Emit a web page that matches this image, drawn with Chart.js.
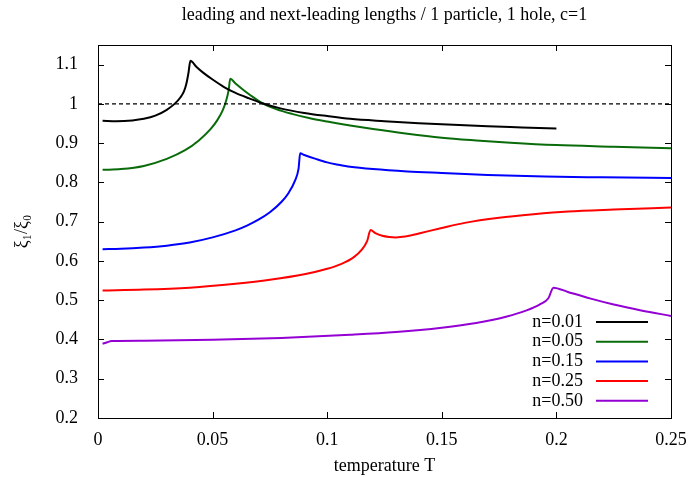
<!DOCTYPE html>
<html>
<head>
<meta charset="utf-8">
<script src="https://cdn.jsdelivr.net/npm/chart.js@4/dist/chart.umd.min.js"></script>
<style>
  html, body { margin: 0; padding: 0; background: #fff; }
  #wrap { width: 694px; height: 477px; }
</style>
</head>
<body>
<div id="wrap"><canvas id="c" width="694" height="477"></canvas></div>
<script>
// ── Data ──────────────────────────────────────────────────────
const TITLE = 'leading and next-leading lengths / 1 particle, 1 hole, c=1';

const xTicks = [0, 0.05, 0.1, 0.15, 0.2, 0.25];
const yTicks = [0.2, 0.3, 0.4, 0.5, 0.6, 0.7, 0.8, 0.9, 1.0, 1.1];

const t001  = [0.002, 0.008, 0.015, 0.02, 0.025, 0.03, 0.0334, 0.036, 0.0375, 0.0385, 0.0395, 0.0403,
               0.043, 0.046, 0.05, 0.055, 0.06, 0.066, 0.072, 0.08, 0.09, 0.1, 0.11, 0.125, 0.14, 0.155, 0.17, 0.185, 0.2];
const xi001 = [0.957, 0.956, 0.958, 0.962, 0.970, 0.985, 1.0, 1.017, 1.032, 1.05, 1.08, 1.110,
               1.094, 1.079, 1.062, 1.043, 1.028, 1.014, 1.001, 0.988, 0.977, 0.969, 0.962, 0.956, 0.951, 0.947, 0.943, 0.940, 0.937];

const t005  = [0.002, 0.01, 0.02, 0.03, 0.038, 0.044, 0.049, 0.052, 0.0545, 0.056, 0.057, 0.0577,
               0.06, 0.064, 0.068, 0.072, 0.078, 0.085, 0.092, 0.1, 0.11, 0.12, 0.135, 0.15, 0.165, 0.18, 0.2, 0.225, 0.25];
const xi005 = [0.832, 0.834, 0.842, 0.860, 0.882, 0.907, 0.935, 0.958, 0.985, 1.01, 1.035, 1.064,
               1.052, 1.033, 1.016, 1.001, 0.986, 0.974, 0.964, 0.955, 0.945, 0.936, 0.924, 0.914, 0.907, 0.901, 0.895, 0.891, 0.887];

const t015  = [0.002, 0.01, 0.02, 0.03, 0.04, 0.05, 0.06, 0.065, 0.07, 0.075, 0.08, 0.083, 0.086, 0.0875, 0.0882,
               0.09, 0.095, 0.1, 0.105, 0.11, 0.12, 0.135, 0.15, 0.17, 0.195, 0.22, 0.25];
const xi015 = [0.630, 0.631, 0.634, 0.639, 0.647, 0.660, 0.678, 0.690, 0.705, 0.724, 0.750, 0.772, 0.805, 0.835, 0.874,
               0.870, 0.860, 0.851, 0.845, 0.840, 0.834, 0.828, 0.824, 0.819, 0.815, 0.813, 0.811];

const t025  = [0.002, 0.02, 0.04, 0.06, 0.075, 0.09, 0.1, 0.106, 0.1115, 0.115, 0.1175, 0.1189,
               0.121, 0.124, 0.127, 0.13, 0.134, 0.14, 0.15, 0.16, 0.175, 0.19, 0.205, 0.225, 0.25];
const xi025 = [0.525, 0.527, 0.532, 0.542, 0.552, 0.566, 0.580, 0.592, 0.609, 0.628, 0.652, 0.679,
               0.671, 0.664, 0.661, 0.660, 0.662, 0.670, 0.684, 0.697, 0.710, 0.719, 0.726, 0.731, 0.736];

const t050  = [0.002, 0.004, 0.006, 0.02, 0.05, 0.08, 0.11, 0.13, 0.15, 0.165, 0.178, 0.187, 0.193, 0.1965, 0.1987,
               0.205, 0.215, 0.225, 0.237, 0.25];
const xi050 = [0.389, 0.393, 0.396, 0.397, 0.399, 0.404, 0.412, 0.419, 0.430, 0.442, 0.458, 0.474, 0.490, 0.505, 0.532,
               0.521, 0.504, 0.489, 0.474, 0.460];

const refT  = [0, 0.25];
const refXi = [1, 1];

const SERIES = [
    { label: 'n=0.01', t: t001, xi: xi001, color: '#000000' },
    { label: 'n=0.05', t: t005, xi: xi005, color: '#0a6b0a' },
    { label: 'n=0.15', t: t015, xi: xi015, color: '#0000ff' },
    { label: 'n=0.25', t: t025, xi: xi025, color: '#ff0000' },
    { label: 'n=0.50', t: t050, xi: xi050, color: '#9400d3' },
];

const FONT = '"Liberation Serif", "Times New Roman", serif';
const fmt = v => String(Number(v.toFixed(2)));

const pts = (xs, ys) => xs.map((x, i) => ({ x, y: ys[i] }));

// ── Plugins: gnuplot-like frame, inward ticks, title, legend ──
const framePlugin = {
    id: 'frame',
    afterDatasetsDraw(chart) {
        const { ctx, chartArea: a, scales: { x, y } } = chart;
        ctx.save();
        ctx.strokeStyle = '#000';
        ctx.lineWidth = 1;
        ctx.beginPath();
        ctx.rect(Math.round(a.left) + 0.5, Math.round(a.top) + 0.5,
                 Math.round(a.right - a.left), Math.round(a.bottom - a.top));
        const L = 6;
        xTicks.forEach(v => {
            const px = Math.round(x.getPixelForValue(v)) + 0.5;
            ctx.moveTo(px, a.bottom); ctx.lineTo(px, a.bottom - L);
            ctx.moveTo(px, a.top);    ctx.lineTo(px, a.top + L);
        });
        yTicks.forEach(v => {
            const py = Math.round(y.getPixelForValue(v)) + 0.5;
            ctx.moveTo(a.left, py);  ctx.lineTo(a.left + L, py);
            ctx.moveTo(a.right, py); ctx.lineTo(a.right - L, py);
        });
        ctx.stroke();
        ctx.restore();
    },
};

const titlePlugin = {
    id: 'gpTitle',
    afterDraw(chart) {
        const { ctx, chartArea: a } = chart;
        ctx.save();
        ctx.font = '18px ' + FONT;
        ctx.fillStyle = '#000';
        ctx.textAlign = 'center';
        ctx.textBaseline = 'middle';
        ctx.fillText(TITLE, (a.left + a.right) / 2, 15);
        ctx.restore();
    },
};

const legendPlugin = {
    id: 'gpLegend',
    afterDraw(chart) {
        const { ctx } = chart;
        ctx.save();
        ctx.font = '18px ' + FONT;
        ctx.textAlign = 'right';
        ctx.textBaseline = 'middle';
        SERIES.forEach((s, i) => {
            const yy = 322 + i * 19.7;
            ctx.fillStyle = '#000';
            ctx.fillText(s.label, 583, yy);
            ctx.strokeStyle = s.color;
            ctx.lineWidth = 2;
            ctx.beginPath();
            ctx.moveTo(596, yy); ctx.lineTo(648, yy);
            ctx.stroke();
        });
        ctx.restore();
    },
};

// ── Chart ─────────────────────────────────────────────────────
const datasets = [
    { label: 'ref', data: pts(refT, refXi), borderColor: '#000', borderWidth: 1.3,
      borderDash: [4, 3], pointRadius: 0, fill: false, tension: 0 },
    ...SERIES.map(s => ({
        label: s.label, data: pts(s.t, s.xi), borderColor: s.color, borderWidth: 2,
        pointRadius: 0, fill: false, cubicInterpolationMode: 'monotone',
    })),
];

new Chart(document.getElementById('c'), {
    type: 'line',
    data: { datasets },
    options: {
        responsive: false, animation: false, devicePixelRatio: 1,
        layout: { padding: { top: 45, right: 23, left: 0, bottom: 0 } },
        plugins: { legend: { display: false }, title: { display: false }, tooltip: { enabled: false } },
        scales: {
            x: {
                type: 'linear', min: 0, max: 0.25,
                afterFit: s => { s.height = 59; },
                afterBuildTicks: s => { s.ticks = xTicks.map(v => ({ value: v })); },
                grid: { display: false },
                border: { display: true, color: '#000', width: 1 },
                ticks: { color: '#000', font: { family: FONT, size: 18 }, padding: 3,
                          maxRotation: 0, callback: v => fmt(v) },
                title: { display: true, text: 'temperature T', color: '#000',
                         font: { family: FONT, size: 18 }, padding: { top: 0, bottom: 0 } },
            },
            y: {
                type: 'linear', min: 0.2, max: 1.15,
                afterFit: s => { s.width = 98; },
                afterBuildTicks: s => { s.ticks = yTicks.map(v => ({ value: v })); },
                grid: { display: false },
                border: { display: true, color: '#000', width: 1 },
                ticks: { color: '#000', font: { family: FONT, size: 18 }, padding: 12,
                          callback: v => fmt(v) },
                title: { display: true, text: 'ξ₁/ξ₀', color: '#000',
                         font: { family: FONT, size: 18 }, padding: { top: 11, bottom: 0 } },
            },
        },
    },
    plugins: [framePlugin, titlePlugin, legendPlugin],
});
</script>
</body>
</html>
